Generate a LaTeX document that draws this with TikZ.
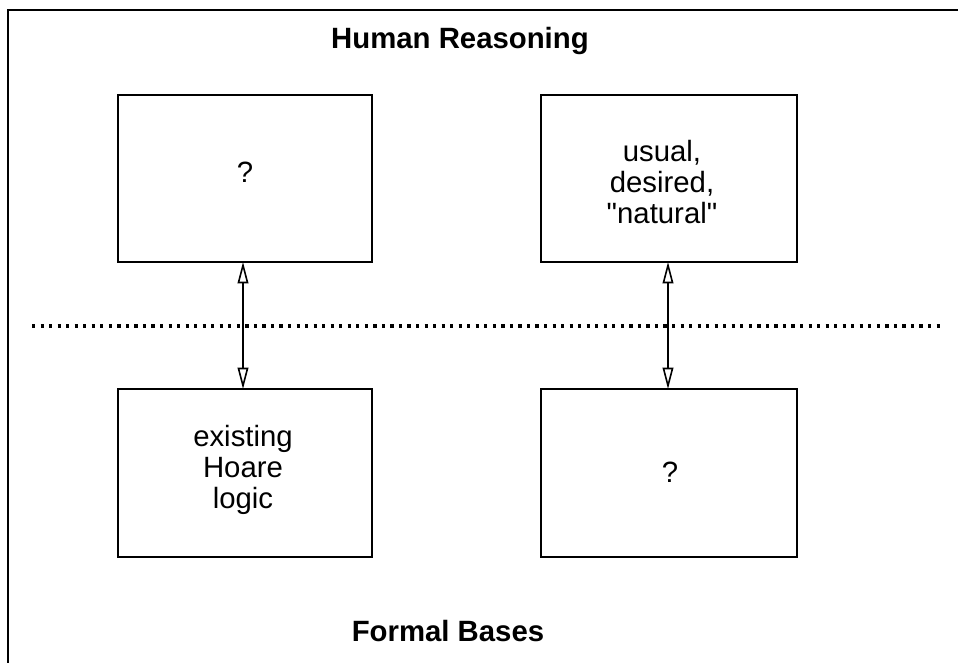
\documentclass[tikz,border=0pt]{standalone}
\usepackage{fontspec}
\setmainfont{Liberation Sans}[Ligatures=TeXOff]
\usetikzlibrary{arrows.meta}
\begin{document}
\begin{tikzpicture}[x=0.75pt,y=-0.75pt,
  box/.style={draw,line width=1.2pt},
  lbl/.style={font=\fontsize{22}{23.5}\selectfont,align=center,inner sep=0pt},
  ttl/.style={font=\fontsize{22}{24}\selectfont\bfseries,inner sep=0pt,anchor=base},
  tip/.style={Triangle[open,length=16pt,width=8pt,line width=1.2pt]},
  link/.style={line width=1.2pt,{Triangle[open,length=16pt,width=8pt]}-{Triangle[open,length=16pt,width=8pt]}},
  frame/.style={line width=1.6pt}]
\useasboundingbox (0,0) rectangle (958,663);
% frame (top and left edges)
\coordinate (fbl) at (8,663);
\coordinate (ftl) at (8,10);
\coordinate (ftr) at (958,10);
\draw[frame] (fbl) -- (ftl) -- (ftr);
% boxes
\draw[box] (118,95) rectangle (372,262);
\draw[box] (541,95) rectangle (797,262);
\draw[box] (118,389) rectangle (372,557);
\draw[box] (541,389) rectangle (797,557);
\coordinate (ta) at (243,262);
\coordinate (ba) at (243,389);
\coordinate (tb) at (668,262);
\coordinate (bb) at (668,389);
% labels
\node[lbl] (q1) at (245,172) {?};
\node[lbl] (nat) at (662,182) {usual,\\desired,\\"natural"};
\node[lbl] (hoare) at (243,470) {existing\\Hoare\\logic};
\node[lbl] (q2) at (670,472) {?};
% titles
\node[ttl] (hr) at (460,49) {Human Reasoning};
\node[ttl] (fb) at (448,641) {Formal Bases};
% dotted separator
\coordinate (dl) at (32,326);
\coordinate (dr) at (941,326);
\draw[line width=2.4pt,dash pattern=on 2.4pt off 4.0pt] (dl) -- (dr);
% arrows
\draw[link] (ta) -- (ba);
\draw[link] (tb) -- (bb);
\end{tikzpicture}
\end{document}
